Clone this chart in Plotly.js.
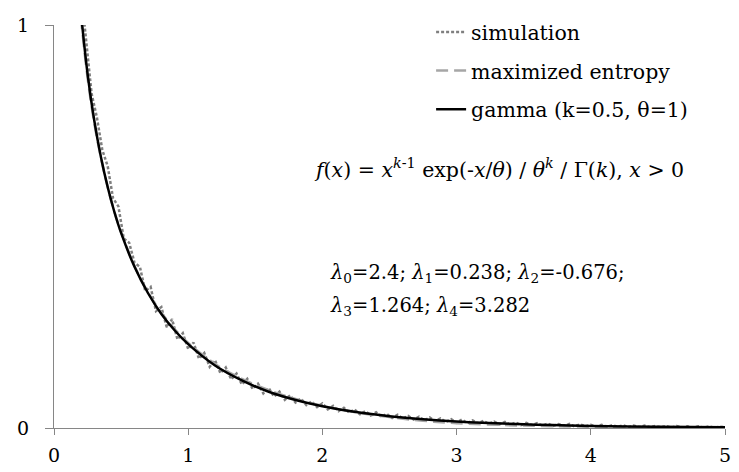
<!DOCTYPE html>
<html>
<head>
<meta charset="utf-8">
<script src="https://cdn.plot.ly/plotly-3.0.1.min.js"></script>
<style>html,body{margin:0;padding:0;background:#fff;}#chart{width:739px;height:472px;}</style>
</head>
<body>
<div id="chart"></div>
<script>
// Simulation (noisy histogram density)
var simX = [0.20,0.24,0.28,0.32,0.36,0.40,0.44,0.48,0.52,0.56,0.60,0.64,0.68,0.72,0.76,0.80,0.84,0.88,0.92,0.96,
  1.00,1.04,1.08,1.12,1.16,1.20,1.24,1.28,1.32,1.36,1.40,1.44,1.48,1.52,1.56,1.60,1.64,1.68,1.72,1.76,
  1.80,1.84,1.88,1.92,1.96,2.00,2.04,2.08,2.12,2.16,2.20,2.24,2.28,2.32,2.36,2.40,2.44,2.48,2.52,2.56,
  2.60,2.64,2.68,2.72,2.76,2.80,2.84,2.88,2.92,2.96,3.00,3.04,3.08,3.12,3.16,3.20,3.24,3.28,3.32,3.36,
  3.40,3.44,3.48,3.52,3.56,3.60,3.64,3.68,3.72,3.76,3.80,3.84,3.88,3.92,3.96,4.00,4.04,4.08,4.12,4.16,
  4.20,4.24,4.28,4.32,4.36,4.40,4.44,4.48,4.52,4.56,4.60,4.64,4.68,4.72,4.76,4.80,4.84,4.88,4.92,4.96,5.00];
var simY = [1.09,0.96,0.83,0.77,0.69,0.65,0.57,0.55,0.47,0.46,0.41,0.40,0.34,0.35,0.29,0.30,0.25,0.27,0.22,0.235,
  0.196,0.212,0.172,0.186,0.152,0.168,0.136,0.150,0.121,0.135,0.108,0.122,0.097,0.110,0.086,0.099,0.078,0.090,0.070,0.081,
  0.063,0.073,0.057,0.066,0.052,0.061,0.046,0.055,0.042,0.050,0.038,0.046,0.034,0.042,0.031,0.039,0.028,0.035,0.025,0.033,
  0.023,0.030,0.021,0.028,0.019,0.026,0.017,0.024,0.015,0.022,0.013,0.021,0.012,0.019,0.011,0.018,0.010,0.016,0.009,0.015,
  0.008,0.014,0.007,0.013,0.007,0.012,0.006,0.011,0.005,0.010,0.005,0.010,0.004,0.009,0.004,0.008,0.003,0.008,0.003,0.007,
  0.003,0.007,0.002,0.006,0.002,0.006,0.002,0.005,0.002,0.005,0.001,0.005,0.001,0.004,0.001,0.004,0.001,0.004,0.001,0.003,0.002];

// Maximized entropy fit
var entX = [0.20,0.25,0.30,0.35,0.40,0.45,0.50,0.60,0.70,0.80,0.90,1.00,1.20,1.40,1.60,1.80,2.00,2.25,2.50,2.75,3.00,3.50,4.00,4.50,5.00];
var entY = [1.02,0.870,0.757,0.670,0.598,0.537,0.486,0.402,0.337,0.286,0.245,0.211,0.159,0.122,0.094,0.072,0.055,0.039,0.027,0.018,0.012,0.006,0.003,0.0015,0.0008];

// Gamma density (k=0.5, theta=1)
var gamX = [0.20,0.25,0.30,0.35,0.40,0.45,0.50,0.60,0.70,0.80,0.90,1.00,1.20,1.40,1.60,1.80,2.00,2.25,2.50,2.75,3.00,3.50,4.00,4.50,5.00];
var gamY = [1.033,0.879,0.763,0.672,0.598,0.536,0.484,0.400,0.335,0.283,0.242,0.208,0.155,0.118,0.090,0.0695,0.054,0.0396,0.0293,0.0217,0.0162,0.0091,0.0052,0.0030,0.0017];

var xTicks = [0,1,2,3,4,5];
var yTicks = [0,1];

var FONT = "'DejaVu Serif', 'Liberation Serif', serif";

var traces = [
  {x: simX, y: simY, mode: 'lines', name: 'simulation', legendgroup: 'a',
   line: {color: '#7f7f7f', width: 2.5, dash: '3px,2px'}},
  {x: entX, y: entY, mode: 'lines', name: 'maximized entropy', legendgroup: 'b',
   line: {color: '#a6a6a6', width: 2.5, dash: '12px,6px', shape: 'spline'}},
  {x: gamX, y: gamY, mode: 'lines', name: 'gamma (k=0.5, θ=1)', legendgroup: 'c',
   line: {color: '#000000', width: 2.5, shape: 'spline'}}
];

var layout = {
  width: 739, height: 472,
  margin: {l: 54, r: 14, t: 16, b: 44},
  paper_bgcolor: '#ffffff', plot_bgcolor: '#ffffff',
  font: {family: FONT, color: '#000000', size: 19},
  showlegend: true,
  legend: {x: 0.562, y: 1.032, xanchor: 'left', yanchor: 'top',
           font: {family: FONT, size: 20.5, color: '#000'}, tracegroupgap: 9,
           bgcolor: 'rgba(0,0,0,0)', traceorder: 'grouped'},
  xaxis: {range: [0, 5], tickvals: xTicks, ticktext: xTicks.map(String),
          showgrid: false, zeroline: false, showline: true, linecolor: '#868686', linewidth: 1,
          ticks: 'outside', ticklen: 6, tickcolor: '#868686', ticklabelstandoff: 4,
          tickfont: {family: FONT, size: 19, color: '#000'}},
  yaxis: {range: [0, 1], tickvals: yTicks, ticktext: yTicks.map(String),
          showgrid: false, zeroline: false, showline: true, linecolor: '#868686', linewidth: 1,
          ticks: 'outside', ticklen: 8, tickcolor: '#868686', ticklabelstandoff: 12,
          tickfont: {family: FONT, size: 19, color: '#000'}},
  annotations: [
    {xref: 'paper', yref: 'paper', x: 0.385, y: 0.643, xanchor: 'left', yanchor: 'middle', showarrow: false,
     font: {family: FONT, size: 20.5},
     text: '<i>f</i>(<i>x</i>) = <i>x</i><sup><i>k</i>-1</sup> exp(-<i>x</i>/<i>θ</i>) / <i>θ</i><sup><i>k</i></sup> / Γ(<i>k</i>), <i>x</i> &gt; 0'},
    {xref: 'paper', yref: 'paper', x: 0.409, y: 0.383, xanchor: 'left', yanchor: 'middle', showarrow: false,
     font: {family: FONT, size: 19.5},
     text: '<i>λ</i><sub>0</sub>=2.4; <i>λ</i><sub>1</sub>=0.238; <i>λ</i><sub>2</sub>=-0.676;'},
    {xref: 'paper', yref: 'paper', x: 0.409, y: 0.301, xanchor: 'left', yanchor: 'middle', showarrow: false,
     font: {family: FONT, size: 19.5},
     text: '<i>λ</i><sub>3</sub>=1.264; <i>λ</i><sub>4</sub>=3.282'}
  ]
};

Plotly.newPlot('chart', traces, layout, {staticPlot: true, displayModeBar: false});
</script>
</body>
</html>
